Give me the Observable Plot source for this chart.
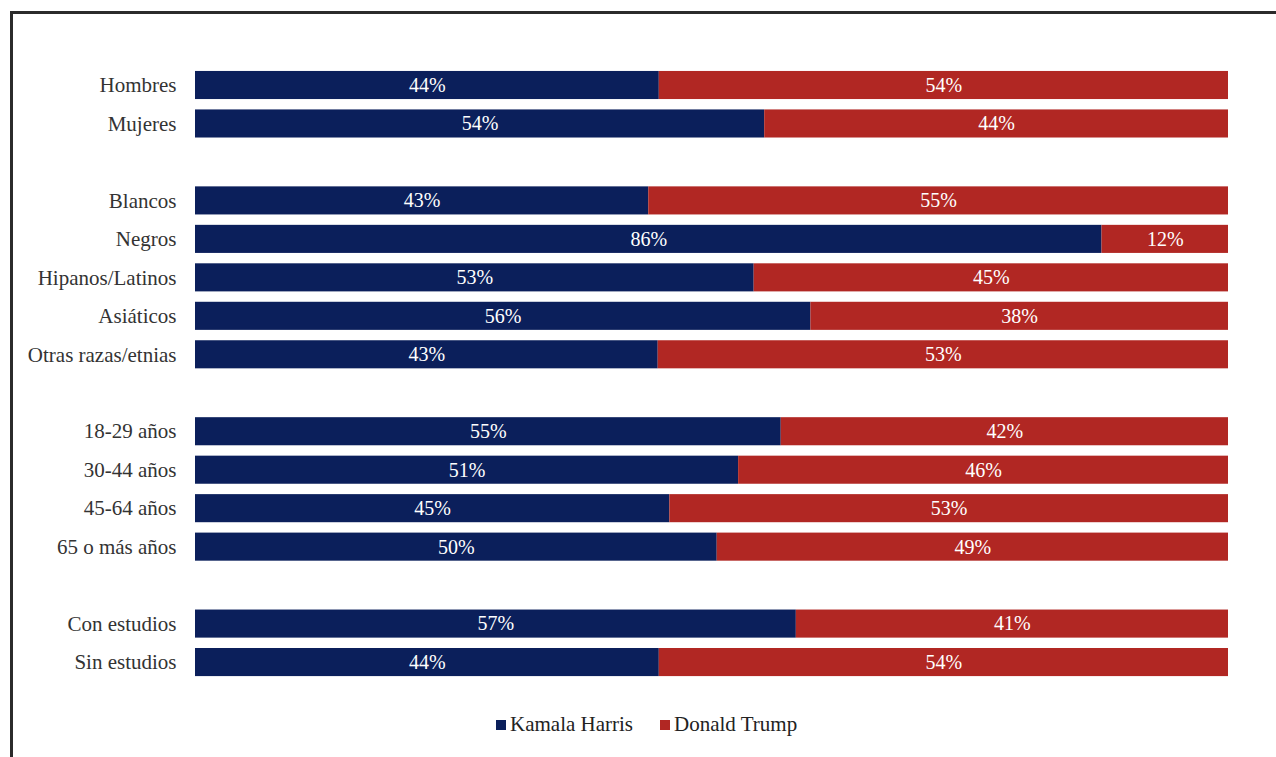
<!DOCTYPE html>
<html>
<head>
<meta charset="utf-8">
<script src="https://cdn.jsdelivr.net/npm/d3@7"></script>
<script src="https://cdn.jsdelivr.net/npm/@observablehq/plot@0.6"></script>
<style>
  html, body { margin: 0; padding: 0; background: #fff; width: 1276px; height: 757px; overflow: hidden; }
  #frame { position: absolute; left: 10px; top: 11px; width: 1300px; height: 743px;
           border-top: 3px solid #2b2b2b; border-left: 3px solid #2b2b2b; border-bottom: 1px solid #e2e2e2; }
  #chart { position: absolute; left: 0; top: 0; }
  #chart svg, #chart svg text { font-family: "Liberation Serif", "Times New Roman", serif; }
  #legend { position: absolute; top: 712px; left: 496px; font-family: "Liberation Serif", "Times New Roman", serif; font-size: 21px; color: #222; display: flex; gap: 27px; }
  #legend span.sw { display: inline-block; width: 10px; height: 10px; margin-right: 4px; vertical-align: 1px; }
</style>
</head>
<body>
<div id="frame"></div>
<div id="chart"></div>
<div id="legend"></div>
<script>
const categories = ["Hombres", "Mujeres", " ", "Blancos", "Negros", "Hipanos/Latinos", "Asiáticos", "Otras razas/etnias", "  ", "18-29 años", "30-44 años", "45-64 años", "65 o más años", "   ", "Con estudios", "Sin estudios"];
const harris = [44, 54, null, 43, 86, 53, 56, 43, null, 55, 51, 45, 50, null, 57, 44];
const trump  = [54, 44, null, 55, 12, 45, 38, 53, null, 42, 46, 53, 49, null, 41, 54];
const seriesNames = ["Kamala Harris", "Donald Trump"];
const seriesColors = ["#0b1f5b", "#b12723"];

const data = [];
categories.forEach((c, i) => {
  if (harris[i] == null) return;
  data.push({cat: c, series: seriesNames[0], value: harris[i]});
  data.push({cat: c, series: seriesNames[1], value: trump[i]});
});

const step = 38.47;
const y0 = 85 - step / 2;

const chart = Plot.plot({
  width: 1276,
  height: 700,
  marginLeft: 195,
  marginRight: 48,
  marginTop: 0,
  marginBottom: 0,
  style: {fontFamily: "'Liberation Serif', 'Times New Roman', serif", fontSize: "21px", color: "#333", background: "transparent"},
  x: {domain: [0, 1], range: [195, 1228], axis: null},
  y: {domain: categories, range: [y0, y0 + step * categories.length], paddingInner: 0.27, paddingOuter: 0.135, round: false, label: null},
  color: {domain: seriesNames, range: seriesColors},
  marks: [
    Plot.ruleX([0], {y1: categories[0], y2: categories[categories.length - 1], stroke: "#e6e6e6", insetTop: -14, insetBottom: -22}),
    Plot.barX(data, Plot.stackX({offset: "normalize", order: seriesNames}, {x: "value", y: "cat", z: "series", fill: "series"})),
    Plot.text(data, Plot.stackX({offset: "normalize", order: seriesNames}, {x: "value", y: "cat", z: "series", text: d => d.value + "%", fill: "white", fontSize: 20})),
    Plot.axisY({tickSize: 0, tickPadding: 19, fontSize: 21, fill: "#333", label: null})
  ]
});
document.getElementById("chart").appendChild(chart);

const legend = document.getElementById("legend");
seriesNames.forEach((n, i) => {
  const item = document.createElement("div");
  item.innerHTML = `<span class="sw" style="background:${seriesColors[i]}"></span>${n}`;
  legend.appendChild(item);
});
</script>
</body>
</html>
